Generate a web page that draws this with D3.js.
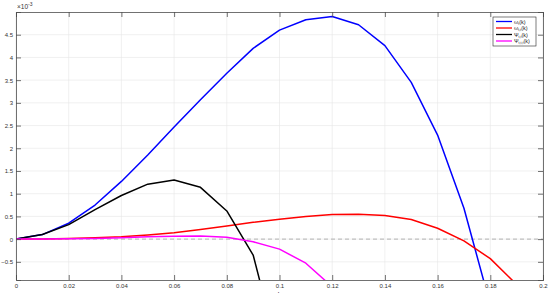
<!DOCTYPE html>
<html>
<head>
<meta charset="utf-8">
<script src="https://cdn.jsdelivr.net/npm/d3@7"></script>
<style>
  body { margin: 0; background: #fff; }
  svg { font-family: "Liberation Sans", Arial, sans-serif; }
</style>
</head>
<body>
<div class="chart"></div>
<script>
// data (y values in units of 1e-3)
const ks = [0, 0.01, 0.02, 0.03, 0.04, 0.05, 0.06, 0.07, 0.08, 0.09, 0.10,
            0.11, 0.12, 0.13, 0.14, 0.15, 0.16, 0.17, 0.18, 0.19]
const omegaT = [0, 0.1, 0.35, 0.75, 1.27, 1.85, 2.47, 3.07, 3.65, 4.2, 4.6,
                4.83, 4.9, 4.72, 4.26, 3.45, 2.29, 0.68, -1.45, null]
const omegaTT = [0, 0.005, 0.015, 0.03, 0.05, 0.09, 0.14, 0.21, 0.29, 0.37, 0.44,
                 0.5, 0.54, 0.55, 0.52, 0.43, 0.24, -0.04, -0.43, -1.0]
const psiTT = [0, 0.1, 0.32, 0.65, 0.96, 1.21, 1.3, 1.14, 0.62, -0.35, -2.6,
               null, null, null, null, null, null, null, null, null]
const psiTTT = [0, 0.003, 0.008, 0.015, 0.03, 0.05, 0.065, 0.07, 0.04, -0.06, -0.22,
                -0.53, -1.05, null, null, null, null, null, null, null]
const xTicks = [0, 0.02, 0.04, 0.06, 0.08, 0.1, 0.12, 0.14, 0.16, 0.18, 0.2]
const yTicks = [-0.5, 0, 0.5, 1, 1.5, 2, 2.5, 3, 3.5, 4, 4.5]

const series = [
  {name: ["ω", "t", "(k)"], color: "#0000ff", values: omegaT},
  {name: ["ω", "t,t", "(k)"], color: "#ff0000", values: omegaTT},
  {name: ["Ψ", "t,t", "(k)"], color: "#000000", values: psiTT},
  {name: ["Ψ", "t,t,t", "(k)"], color: "#ff00ff", values: psiTTT}
]

const W = 550, H = 293
const m = {left: 16, right: 7, top: 12, bottom: 13}

const svg = d3.select(".chart").append("svg")
  .attr("width", W).attr("height", H)

const x = d3.scaleLinear().domain([0, 0.2]).range([m.left, W - m.right])
const y = d3.scaleLinear().domain([-0.9, 5]).range([H - m.bottom, m.top])

// grid
const grid = svg.append("g").attr("stroke", "#e6e6e6").attr("stroke-width", 0.6)
grid.selectAll(".gx").data(xTicks).join("line")
  .attr("x1", d => x(d)).attr("x2", d => x(d))
  .attr("y1", y.range()[1]).attr("y2", y.range()[0])
grid.selectAll(".gy").data(yTicks).join("line")
  .attr("x1", x.range()[0]).attr("x2", x.range()[1])
  .attr("y1", d => y(d)).attr("y2", d => y(d))

// zero reference line
svg.append("line")
  .attr("x1", x.range()[0]).attr("x2", x.range()[1])
  .attr("y1", y(0)).attr("y2", y(0))
  .attr("stroke", "#b3b3b3").attr("stroke-width", 1)
  .attr("stroke-dasharray", "4,3")

// clip
svg.append("clipPath").attr("id", "clip")
  .append("rect")
  .attr("x", x.range()[0]).attr("y", y.range()[1])
  .attr("width", x.range()[1] - x.range()[0])
  .attr("height", y.range()[0] - y.range()[1])

const line = d3.line()
  .defined(d => d[1] !== null)
  .x(d => x(d[0]))
  .y(d => y(d[1]))

svg.append("g").attr("clip-path", "url(#clip)")
  .selectAll("path").data(series).join("path")
  .attr("fill", "none")
  .attr("stroke", d => d.color)
  .attr("stroke-width", 1.5)
  .attr("stroke-linejoin", "round")
  .attr("d", d => line(ks.map((k, i) => [k, d.values[i]])))

// axes (box style, ticks inside)
const axisColor = "#4d4d4d"
const tickLen = 5
const ax = svg.append("g")
ax.append("g")
  .attr("transform", `translate(0,${y.range()[0]})`)
  .call(d3.axisBottom(x).tickValues(xTicks).tickSize(-tickLen).tickPadding(4)
    .tickFormat(d => d === 0 ? "0" : d3.format("")(+d.toFixed(2))))
ax.append("g")
  .attr("transform", `translate(0,${y.range()[1]})`)
  .call(d3.axisTop(x).tickValues(xTicks).tickSize(-tickLen).tickFormat(""))
ax.append("g")
  .attr("transform", `translate(${x.range()[0]},0)`)
  .call(d3.axisLeft(y).tickValues(yTicks).tickSize(-tickLen).tickPadding(3)
    .tickFormat(d => d3.format("")(d)))
ax.append("g")
  .attr("transform", `translate(${x.range()[1]},0)`)
  .call(d3.axisRight(y).tickValues(yTicks).tickSize(-tickLen).tickFormat(""))

ax.selectAll(".domain").attr("stroke", axisColor).attr("stroke-width", 0.8)
ax.selectAll(".tick line").attr("stroke", axisColor).attr("stroke-width", 0.8)
ax.selectAll(".tick text").attr("fill", "#333").attr("font-size", 6)

// exponent label
const ex = svg.append("text").attr("x", m.left + 1).attr("y", m.top - 3)
  .attr("font-size", 6.5).attr("fill", "#333")
ex.append("tspan").text("×10")
ex.append("tspan").attr("dy", -3).attr("font-size", 5).text("-3")

// x label (mostly cut off by the page edge)
svg.append("text").attr("x", x(0.1)).attr("y", H + 4)
  .attr("text-anchor", "middle").attr("font-size", 7).attr("fill", "#333")
  .text("k")

// legend
const lg = svg.append("g").attr("transform", "translate(493,17)")
lg.append("rect").attr("width", 43).attr("height", 29)
  .attr("fill", "#fff").attr("stroke", "#262626").attr("stroke-width", 0.6)
const item = lg.selectAll(".item").data(series).join("g")
  .attr("transform", (d, i) => `translate(0,${4.5 + i * 6.5})`)
item.append("line").attr("x1", 3).attr("x2", 19)
  .attr("stroke", d => d.color).attr("stroke-width", 1.3)
const t = item.append("text").attr("x", 21).attr("y", 2)
  .attr("font-size", 5.5).attr("fill", "#222")
t.append("tspan").text(d => d.name[0])
t.append("tspan").attr("dy", 1.2).attr("font-size", 3.5).text(d => d.name[1])
t.append("tspan").attr("dy", -1.2).text(d => d.name[2])
</script>
</body>
</html>
